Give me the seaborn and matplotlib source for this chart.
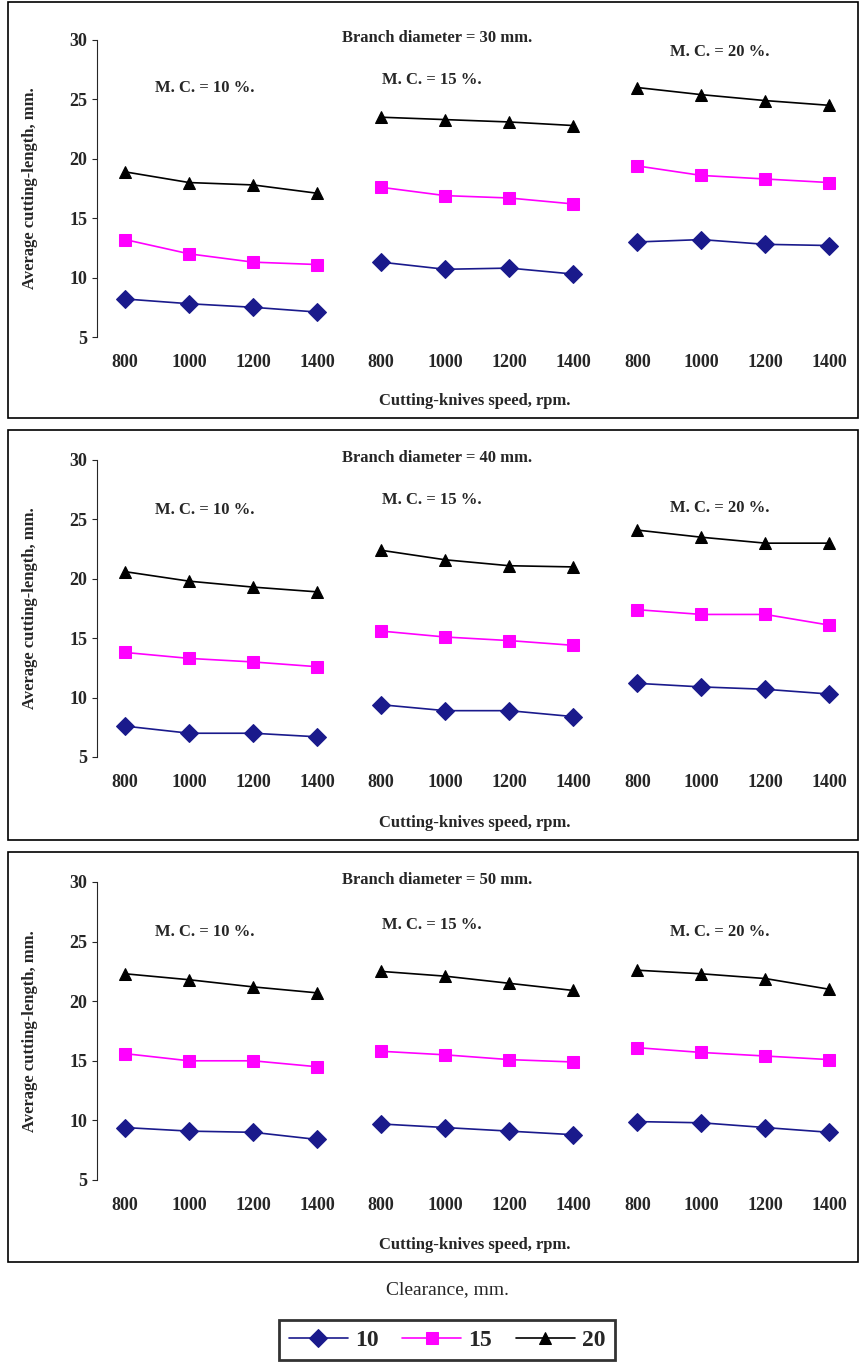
import numpy as np
import pandas as pd
import matplotlib
matplotlib.use("Agg")
import matplotlib.pyplot as plt
from matplotlib.patches import Rectangle
import seaborn as sns

# ---------------------------------------------------------------------------
# Data
# ---------------------------------------------------------------------------
speeds = ["800", "1000", "1200", "1400"]
moistures = ["M. C. = 10 %.", "M. C. = 15 %.", "M. C. = 20 %."]
clearances = ["10", "15", "20"]
diameters = ["30", "40", "50"]

# values[diameter][clearance] -> 12 values (3 moisture groups x 4 speeds)
d30_c10 = [8.2, 7.8, 7.5, 7.1, 11.3, 10.7, 10.8, 10.3, 13.0, 13.2, 12.8, 12.7]
d30_c15 = [13.2, 12.0, 11.3, 11.1, 17.6, 16.9, 16.7, 16.2, 19.4, 18.6, 18.3, 18.0]
d30_c20 = [18.9, 18.0, 17.8, 17.1, 23.5, 23.3, 23.1, 22.8, 26.0, 25.4, 24.9, 24.5]
d40_c10 = [7.6, 7.0, 7.0, 6.7, 9.4, 8.9, 8.9, 8.4, 11.2, 10.9, 10.7, 10.3]
d40_c15 = [13.8, 13.3, 13.0, 12.6, 15.6, 15.1, 14.8, 14.4, 17.4, 17.0, 17.0, 16.1]
d40_c20 = [20.6, 19.8, 19.3, 18.9, 22.4, 21.6, 21.1, 21.0, 24.1, 23.5, 23.0, 23.0]
d50_c10 = [9.4, 9.1, 9.0, 8.4, 9.7, 9.4, 9.1, 8.8, 9.9, 9.8, 9.4, 9.0]
d50_c15 = [15.6, 15.0, 15.0, 14.5, 15.8, 15.5, 15.1, 14.9, 16.1, 15.7, 15.4, 15.1]
d50_c20 = [22.3, 21.8, 21.2, 20.7, 22.5, 22.1, 21.5, 20.9, 22.6, 22.3, 21.9, 21.0]

panel_values = {
    "30": [d30_c10, d30_c15, d30_c20],
    "40": [d40_c10, d40_c15, d40_c20],
    "50": [d50_c10, d50_c15, d50_c20],
}

colors = {"10": "#1a1a8c", "15": "#ff00ff", "20": "#000000"}
markers = {"10": "D", "15": "s", "20": "^"}

# ---------------------------------------------------------------------------
# Figure
# ---------------------------------------------------------------------------
sns.set_style("ticks")
plt.rcParams["font.family"] = ["Liberation Serif", "DejaVu Serif"]

W, H = 860, 1364
fig = plt.figure(figsize=(W / 100, H / 100), dpi=100)


def fx(px):
    return px / W


def fy(py):
    return 1 - py / H


# panel geometry in pixels: (box top, box bottom, axes top, axes bottom)
panels = [(2, 418, 40, 337), (430, 840, 460, 757), (852, 1262, 882, 1180)]
mc_pos = [
    [(205, 88), (432, 80), (720, 52)],
    [(205, 510), (432, 500), (720, 508)],
    [(205, 932), (432, 925), (720, 932)],
]

ax = None
for pi, (dia, (bt, bb, at, ab)) in enumerate(zip(diameters, panels)):
    fig.patches.append(Rectangle((fx(8), fy(bb)), fx(850), (bb - bt) / H,
                                 transform=fig.transFigure, fill=False,
                                 edgecolor="black", linewidth=1.2))
    ax = fig.add_axes([fx(97), fy(ab), fx(855 - 97), (ab - at) / H])

    rows = []
    for ci, cl in enumerate(clearances):
        vals = panel_values[dia][ci]
        for k, v in enumerate(vals):
            rows.append({"x": k, "y": v, "Clearance": cl, "grp": f"{cl}-{k // 4}"})
    df = pd.DataFrame(rows)

    sns.lineplot(data=df, x="x", y="y", hue="Clearance", style="Clearance",
                 units="grp", estimator=None, palette=colors, markers=markers,
                 dashes=False, markersize=9, markeredgecolor=None,
                 linewidth=1.2, ax=ax, legend=(pi == 2))

    ax.set_xlim(-0.44, 11.4)
    ax.set_ylim(5, 30)
    ax.set_yticks([5, 10, 15, 20, 25, 30])
    ax.set_xticks(range(12))
    ax.set_xticklabels(speeds * 3)
    ax.tick_params(axis="x", length=0, pad=12)
    ax.tick_params(labelsize=13)
    for lab in ax.get_xticklabels() + ax.get_yticklabels():
        lab.set_fontweight("bold")
    sns.despine(ax=ax)
    ax.spines["bottom"].set_visible(False)
    ax.set_xlabel("")
    ax.set_ylabel("")

    fig.text(fx(437), fy(at - 2), f"Branch diameter = {dia} mm.",
             ha="center", va="center", fontsize=12, fontweight="bold")
    for (px, py), mc in zip(mc_pos[pi], moistures):
        fig.text(fx(px), fy(py), mc, ha="center", va="center",
                 fontsize=12, fontweight="bold")
    fig.text(fx(475), fy(bb - 17), "Cutting-knives speed, rpm.",
             ha="center", va="center", fontsize=12, fontweight="bold")
    fig.text(fx(30), fy((at + ab) / 2), "Average cutting-length, mm.",
             ha="center", va="center", rotation=90, fontsize=12,
             fontweight="bold")

handles, labels = ax.get_legend_handles_labels()
ax.get_legend().remove()
fig.text(fx(447), fy(1290), "Clearance, mm.", ha="center", va="center",
         fontsize=14)
leg = fig.legend(handles, labels, loc="center", ncol=3,
                 bbox_to_anchor=(fx(447), fy(1340)), frameon=True,
                 fancybox=False, edgecolor="black", handlelength=2.5,
                 columnspacing=1.0, handletextpad=0.3,
                 prop={"size": 17, "weight": "bold"})
leg.get_frame().set_linewidth(2)

fig.savefig("out.png", dpi=100)
